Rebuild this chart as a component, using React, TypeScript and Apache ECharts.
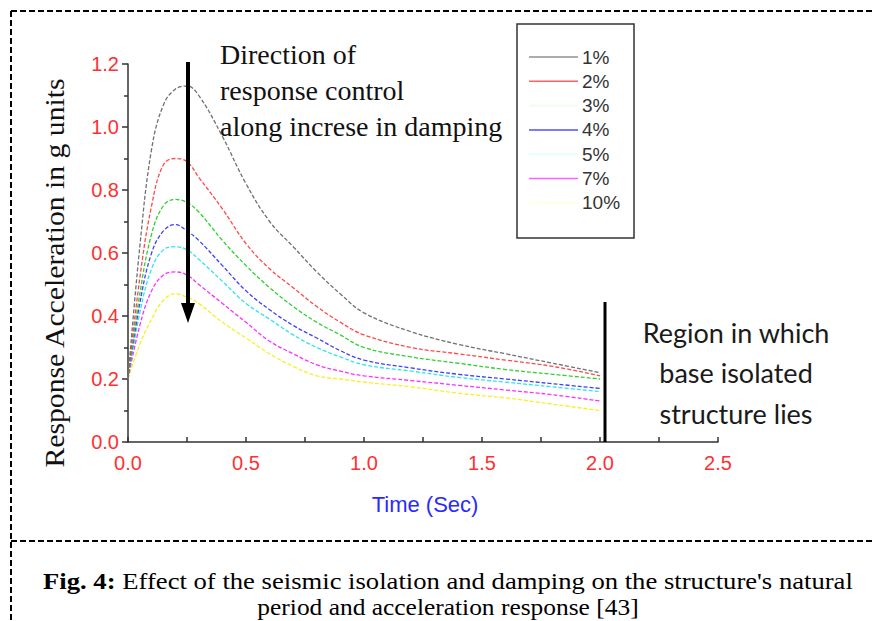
import React, { useEffect, useRef } from "react";
import * as echarts from "echarts";

const times = [0, 0.05, 0.1, 0.15, 0.2, 0.25, 0.3, 0.4, 0.5, 0.6, 0.7, 0.8, 0.9, 1.0, 1.2, 1.4, 1.6, 1.8, 2.0];
const d1 = [0.2, 0.62, 0.93, 1.07, 1.12, 1.13, 1.1, 0.97, 0.82, 0.7, 0.62, 0.54, 0.47, 0.41, 0.35, 0.31, 0.28, 0.25, 0.22];
const d2 = [0.2, 0.52, 0.75, 0.88, 0.9, 0.89, 0.84, 0.74, 0.63, 0.55, 0.49, 0.43, 0.38, 0.34, 0.3, 0.28, 0.26, 0.24, 0.21];
const d3 = [0.2, 0.47, 0.66, 0.75, 0.77, 0.76, 0.73, 0.64, 0.56, 0.49, 0.43, 0.38, 0.34, 0.3, 0.27, 0.25, 0.23, 0.215, 0.2];
const d4 = [0.2, 0.44, 0.6, 0.67, 0.69, 0.67, 0.64, 0.56, 0.48, 0.42, 0.37, 0.33, 0.29, 0.26, 0.235, 0.215, 0.2, 0.185, 0.17];
const d5 = [0.2, 0.41, 0.55, 0.61, 0.62, 0.61, 0.58, 0.51, 0.44, 0.39, 0.34, 0.3, 0.27, 0.245, 0.225, 0.205, 0.19, 0.175, 0.16];
const d7 = [0.2, 0.37, 0.48, 0.53, 0.54, 0.53, 0.5, 0.44, 0.38, 0.32, 0.28, 0.245, 0.225, 0.21, 0.195, 0.18, 0.165, 0.15, 0.13];
const d10 = [0.2, 0.31, 0.39, 0.45, 0.47, 0.46, 0.44, 0.38, 0.33, 0.28, 0.24, 0.21, 0.2, 0.19, 0.175, 0.155, 0.14, 0.12, 0.1];

const seriesNames = ["1%", "2%", "3%", "4%", "5%", "7%", "10%"];
const seriesData = [d1, d2, d3, d4, d5, d7, d10];
const lineColors = ["#707070", "#ff4848", "#30d030", "#4040ff", "#30e4ee", "#ff30ff", "#f8f020"];
const legendColors = ["#909090", "#ff6060", "#e6ffe6", "#5050ff", "#dcffff", "#ff60ff", "#ffffd8"];

const xTicks = { min: 0, max: 2.5, interval: 0.5 };
const yTicks = { min: 0, max: 1.2, interval: 0.2 };

const directionLines = ["Direction of", "response control", "along increse in damping"];
const regionLines = ["Region in which", "base isolated", "structure lies"];
const captionBold = "Fig. 4:";
const captionLine1 = " Effect of the seismic isolation and damping on the structure's natural";
const captionLine2 = "period and acceleration response [43]";

const SERIF_FAMILY = "Liberation Serif";
const SERIF = "'Liberation Serif', 'Times New Roman', serif";
const SANS = "'Liberation Sans', Arial, sans-serif";

export default function App() {
  const ref = useRef<HTMLDivElement>(null);
  useEffect(() => {
    document.body.style.margin = "0";
    const chart = echarts.init(ref.current!, null, { renderer: "svg" });
    const g: any[] = [];
    const dashStyle = { stroke: "#000", lineWidth: 2, lineDash: [6, 3] };
    g.push({ type: "line", shape: { x1: 11, y1: 11, x2: 11, y2: 621 }, style: dashStyle });
    g.push({ type: "line", shape: { x1: 11, y1: 11, x2: 872, y2: 11 }, style: dashStyle });
    g.push({ type: "line", shape: { x1: 11, y1: 541, x2: 872, y2: 541 }, style: dashStyle });
    g.push({
      type: "rect",
      shape: { x: 517, y: 24, width: 117, height: 214 },
      style: { fill: "#fff", stroke: "#333", lineWidth: 1.5 },
      z: 50,
    });
    seriesNames.forEach((n, i) => {
      const y = 57 + i * 24.3;
      g.push({
        type: "line",
        shape: { x1: 529, y1: y, x2: 578, y2: y },
        style: { stroke: legendColors[i], lineWidth: 1.5 },
        z: 60,
      });
      g.push({
        type: "text",
        x: 582,
        y,
        style: { text: n, font: "19px " + SANS, fill: "#333", verticalAlign: "middle" },
        z: 60,
      });
    });
    g.push({ type: "line", shape: { x1: 188, y1: 62, x2: 188, y2: 306 }, style: { stroke: "#000", lineWidth: 4 }, z: 70 });
    g.push({ type: "polygon", shape: { points: [[181, 303], [195, 303], [188, 323]] }, style: { fill: "#000" }, z: 70 });
    g.push({ type: "line", shape: { x1: 605, y1: 302, x2: 605, y2: 442 }, style: { stroke: "#000", lineWidth: 3 }, z: 70 });
    directionLines.forEach((t, i) => {
      g.push({
        type: "text",
        x: 220,
        y: 54 + i * 36,
        style: { text: t, font: "28px " + SERIF, fill: "#111", verticalAlign: "middle" },
        z: 70,
      });
    });
    regionLines.forEach((t, i) => {
      g.push({
        type: "text",
        x: 736,
        y: 332 + i * 40.5,
        style: { text: t, font: "27px Lato, 'Open Sans', sans-serif", fill: "#1a1a1a", align: "center", verticalAlign: "middle" },
        z: 70,
      });
    });
    g.push({
      type: "text",
      x: 55,
      y: 273,
      rotation: Math.PI / 2,
      scaleX: 1.1,
      style: {
        text: "Response Acceleration in g units",
        font: "27px " + SERIF,
        fill: "#111",
        align: "center",
        verticalAlign: "middle",
      },
    });
    g.push({
      type: "text",
      x: 425,
      y: 504,
      style: { text: "Time (Sec)", font: "22px " + SANS, fill: "#2a2aff", align: "center", verticalAlign: "middle" },
    });
    g.push({
      type: "text",
      x: 448,
      y: 580,
      scaleX: 1.11,
      style: {
        text: "{b|" + captionBold + "}{n|" + captionLine1 + "}",
        rich: {
          b: { fontFamily: SERIF_FAMILY, fontSize: 24, fontWeight: "bold", fill: "#000" },
          n: { fontFamily: SERIF_FAMILY, fontSize: 24, fontWeight: "normal", fill: "#000" },
        },
        fontFamily: SERIF_FAMILY,
        fontSize: 24,
        fill: "#000",
        align: "center",
        verticalAlign: "middle",
      },
    });
    g.push({
      type: "text",
      x: 448,
      y: 607,
      scaleX: 1.06,
      style: {
        text: captionLine2,
        font: "24px " + SERIF,
        fill: "#000",
        align: "center",
        verticalAlign: "middle",
      },
    });

    chart.setOption({
      animation: false,
      grid: { left: 128, top: 64, right: 154, bottom: 179 },
      xAxis: {
        type: "value",
        min: xTicks.min,
        max: xTicks.max,
        interval: xTicks.interval,
        axisLine: { show: true, lineStyle: { color: "#333", width: 1.5 } },
        axisTick: { show: true, inside: true, length: 5, lineStyle: { color: "#333", width: 1.5 } },
        minorTick: { show: true, splitNumber: 2, length: 5, lineStyle: { color: "#333", width: 1.5 } },
        splitLine: { show: false },
        axisLabel: {
          color: "#ff3030",
          fontSize: 20,
          fontFamily: SANS,
          margin: 11,
          formatter: (v: number) => v.toFixed(1),
        },
      },
      yAxis: {
        type: "value",
        min: yTicks.min,
        max: yTicks.max,
        interval: yTicks.interval,
        axisLine: { show: true, lineStyle: { color: "#333", width: 1.5 } },
        axisTick: { show: true, length: 6, lineStyle: { color: "#333", width: 1.5 } },
        minorTick: { show: true, splitNumber: 2, length: 4, lineStyle: { color: "#333", width: 1.5 } },
        splitLine: { show: false },
        axisLabel: {
          color: "#ff3030",
          fontSize: 20,
          fontFamily: SANS,
          margin: 9,
          formatter: (v: number) => v.toFixed(1),
        },
      },
      series: seriesNames.map((n, i) => ({
        name: n,
        type: "line",
        smooth: 0.4,
        symbol: "none",
        data: times.map((t, k) => [t, seriesData[i][k]]),
        lineStyle: { color: lineColors[i], width: 1.3, type: [4, 2] },
        z: 10 - i,
      })),
      graphic: g,
    });
    return () => chart.dispose();
  }, []);
  return <div ref={ref} style={{ width: 872, height: 621 }} />;
}
